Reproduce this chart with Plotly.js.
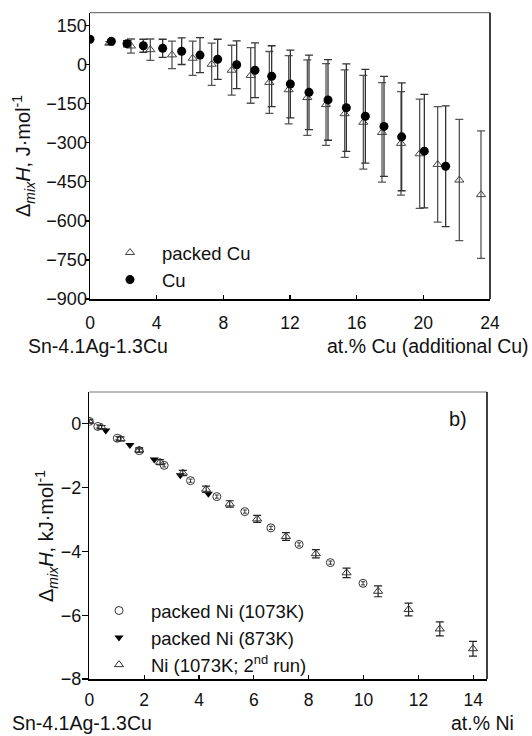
<!DOCTYPE html>
<html>
<head>
<meta charset="utf-8">
<script src="https://cdn.plot.ly/plotly-3.0.1.min.js"></script>
<style>
html,body{margin:0;padding:0;background:#fff;}
#chart{width:532px;height:736px;}
</style>
</head>
<body>
<div id="chart"></div>
<script>
// ---- Panel a) : additional Cu ----
const cuX      = [0, 1.28, 2.22, 3.2, 4.36, 5.5, 6.6, 7.66, 8.8, 9.9, 10.9, 12.02, 13.14, 14.28, 15.38, 16.52, 17.64, 18.7, 20.06, 21.34];
const cuY      = [98, 90, 81, 73, 63, 52, 37, 21, 0, -21, -44, -74, -106, -135, -165, -198, -237, -277, -332, -390];
const cuErr    = [0, 5, 12, 25, 35, 51, 67, 77, 92, 105, 117, 130, 143, 155, 168, 180, 192, 207, 218, 232];

const pCuX     = [1.16, 2.46, 3.62, 4.92, 6.16, 7.3, 8.5, 9.64, 10.76, 11.92, 13.04, 14.16, 15.28, 16.4, 17.52, 18.66, 19.78, 20.86, 22.16, 23.46];
const pCuY     = [83, 72, 58, 38, 25, 2, -21, -41, -68, -96, -126, -153, -188, -221, -260, -302, -342, -383, -443, -499];
const pCuErr   = [6, 27, 41, 53, 66, 81, 96, 107, 119, 131, 145, 157, 168, 180, 191, 199, 210, 222, 233, 245];

const topYTicks = [-900, -750, -600, -450, -300, -150, 0, 150];
const topXTicks = [0, 4, 8, 12, 16, 20, 24];

// ---- Panel b) : Ni ----
const pNi1073X = [0, 0.31, 1.02, 1.82, 2.73, 3.69, 4.65, 5.67, 6.62, 7.65, 8.79, 9.98];
const pNi1073Y = [0.08, -0.08, -0.45, -0.84, -1.3, -1.78, -2.28, -2.75, -3.26, -3.78, -4.35, -5.0];

const pNi873X  = [0.6, 1.48, 2.37, 3.32, 4.34];
const pNi873Y  = [-0.21, -0.66, -1.12, -1.61, -2.19];

const ni2X     = [0, 0.45, 1.14, 1.82, 2.58, 3.41, 4.26, 5.12, 6.12, 7.17, 8.26, 9.38, 10.53, 11.64, 12.78, 13.99];
const ni2Y     = [0.08, -0.1, -0.47, -0.82, -1.2, -1.54, -2.05, -2.51, -2.98, -3.53, -4.07, -4.67, -5.25, -5.82, -6.43, -7.05];
const ni2Err   = [0.05, 0.05, 0.06, 0.07, 0.08, 0.08, 0.1, 0.1, 0.11, 0.12, 0.13, 0.15, 0.17, 0.2, 0.22, 0.23];

const botYTicks = [-8, -6, -4, -2, 0];
const botXTicks = [0, 2, 4, 6, 8, 10, 12, 14];

const FONT = 'Liberation Sans, Arial, sans-serif';
const INK = '#111';

const traces = [
  {
    x: pCuX, y: pCuY, type: 'scatter', mode: 'markers', name: 'packed Cu',
    xaxis: 'x', yaxis: 'y', legend: 'legend',
    marker: {symbol: 'triangle-up-open', size: 8, color: '#444', line: {width: 1, color: '#444'}},
    error_y: {type: 'data', array: pCuErr, visible: true, color: '#555', thickness: 1.3, width: 4}
  },
  {
    x: cuX, y: cuY, type: 'scatter', mode: 'markers', name: 'Cu',
    xaxis: 'x', yaxis: 'y', legend: 'legend',
    marker: {symbol: 'circle', size: 9, color: '#000'},
    error_y: {type: 'data', array: cuErr, visible: true, color: '#333', thickness: 1.3, width: 4}
  },
  {
    x: pNi1073X, y: pNi1073Y, type: 'scatter', mode: 'markers', name: 'packed Ni (1073K)',
    xaxis: 'x2', yaxis: 'y2', legend: 'legend2',
    marker: {symbol: 'circle-open', size: 8, color: '#333', line: {width: 1, color: '#333'}},
    error_y: {type: 'data', array: pNi1073X.map(() => 0.05), visible: true, color: '#333', thickness: 1, width: 2}
  },
  {
    x: pNi873X, y: pNi873Y, type: 'scatter', mode: 'markers', name: 'packed Ni (873K)',
    xaxis: 'x2', yaxis: 'y2', legend: 'legend2',
    marker: {symbol: 'triangle-down', size: 8, color: '#000'}
  },
  {
    x: ni2X, y: ni2Y, type: 'scatter', mode: 'markers', name: 'Ni (1073K; 2<sup>nd</sup> run)',
    xaxis: 'x2', yaxis: 'y2', legend: 'legend2',
    marker: {symbol: 'triangle-up-open', size: 8, color: '#333', line: {width: 1, color: '#333'}},
    error_y: {type: 'data', array: ni2Err, visible: true, color: '#222', thickness: 1.2, width: 4}
  }
];

const axBase = {
  showgrid: false, zeroline: false, showline: true, linecolor: '#000', linewidth: 1.5,
  tickfont: {family: FONT, size: 18, color: INK}, tickcolor: '#000', tickwidth: 1.2,
  fixedrange: true
};

const layout = {
  width: 532, height: 736,
  margin: {l: 0, r: 0, t: 0, b: 0},
  paper_bgcolor: '#fff', plot_bgcolor: '#fff',
  font: {family: FONT, color: INK},
  showlegend: true,
  xaxis: Object.assign({}, axBase, {
    domain: [90/532, 490/532], range: [0, 24], tickvals: topXTicks,
    ticks: 'inside', ticklen: 4, anchor: 'y', ticklabelstandoff: 7,
    tickfont: {family: FONT, size: 17.5, color: INK}
  }),
  yaxis: Object.assign({}, axBase, {
    domain: [1 - 299/736, 1 - 12.7/736], range: [-900, 200], tickvals: topYTicks,
    ticks: 'outside', ticklen: 4, anchor: 'x', ticklabelstandoff: -6
  }),
  xaxis2: Object.assign({}, axBase, {
    domain: [89.3/532, 487/532], range: [0, 14.5], tickvals: botXTicks,
    ticks: 'inside', ticklen: 4, anchor: 'y2', ticklabelstandoff: 4,
    tickfont: {family: FONT, size: 17.5, color: INK}
  }),
  yaxis2: Object.assign({}, axBase, {
    domain: [1 - 679/736, 1 - 392/736], range: [-8, 1], tickvals: botYTicks,
    ticks: 'outside', ticklen: 6, anchor: 'x2', ticklabelstandoff: -3
  }),
  legend: {
    x: 98/532, y: 1 - 234/736, xanchor: 'left', yanchor: 'top',
    bgcolor: 'rgba(0,0,0,0)', borderwidth: 0, itemwidth: 54,
    font: {family: FONT, size: 18.5, color: INK}, tracegroupgap: 0
  },
  legend2: {
    x: 87/532, y: 1 - 592/736, xanchor: 'left', yanchor: 'top',
    bgcolor: 'rgba(0,0,0,0)', borderwidth: 0, itemwidth: 54,
    font: {family: FONT, size: 18.5, color: INK}, tracegroupgap: 0
  },
  shapes: [
    {type: 'line', xref: 'x domain', yref: 'y domain', x0: 0, x1: 1, y0: 1, y1: 1, line: {color: '#777', width: 1.2}},
    {type: 'line', xref: 'x domain', yref: 'y domain', x0: 1, x1: 1, y0: 0, y1: 1, line: {color: '#000', width: 1.5}},
    {type: 'line', xref: 'x2 domain', yref: 'y2 domain', x0: 0, x1: 1, y0: 1, y1: 1, line: {color: '#777', width: 1.2}},
    {type: 'line', xref: 'x2 domain', yref: 'y2 domain', x0: 1, x1: 1, y0: 0, y1: 1, line: {color: '#000', width: 1.5}}
  ],
  annotations: [
    {text: 'Δ<sub><i>mix</i></sub><i>H</i>, J·mol<sup>-1</sup>', textangle: -90, xref: 'paper', yref: 'paper',
     x: 24/532, y: 1 - 156/736, xanchor: 'center', yanchor: 'middle', showarrow: false,
     font: {family: FONT, size: 20, color: INK}},
    {text: 'Sn-4.1Ag-1.3Cu', xref: 'paper', yref: 'paper', x: 26/532, y: 1 - 346/736,
     xanchor: 'left', yanchor: 'middle', showarrow: false, font: {family: FONT, size: 19.5, color: INK}},
    {text: 'at.% Cu (additional Cu)', xref: 'paper', yref: 'paper', x: 531/532, y: 1 - 346/736,
     xanchor: 'right', yanchor: 'middle', showarrow: false, font: {family: FONT, size: 19.5, color: INK}},
    {text: 'Δ<sub><i>mix</i></sub><i>H</i>, kJ·mol<sup>-1</sup>', textangle: -90, xref: 'paper', yref: 'paper',
     x: 46/532, y: 1 - 536/736, xanchor: 'center', yanchor: 'middle', showarrow: false,
     font: {family: FONT, size: 20, color: INK}},
    {text: 'b)', xref: 'paper', yref: 'paper', x: 447/532, y: 1 - 419/736,
     xanchor: 'left', yanchor: 'middle', showarrow: false, font: {family: FONT, size: 20, color: INK}},
    {text: 'Sn-4.1Ag-1.3Cu', xref: 'paper', yref: 'paper', x: 10/532, y: 0,
     xanchor: 'left', yanchor: 'bottom', showarrow: false, font: {family: FONT, size: 19.5, color: INK}},
    {text: 'at.% Ni', xref: 'paper', yref: 'paper', x: 516/532, y: 0,
     xanchor: 'right', yanchor: 'bottom', showarrow: false, font: {family: FONT, size: 19.5, color: INK}}
  ]
};

Plotly.newPlot('chart', traces, layout, {staticPlot: true, displayModeBar: false});
</script>
</body>
</html>
